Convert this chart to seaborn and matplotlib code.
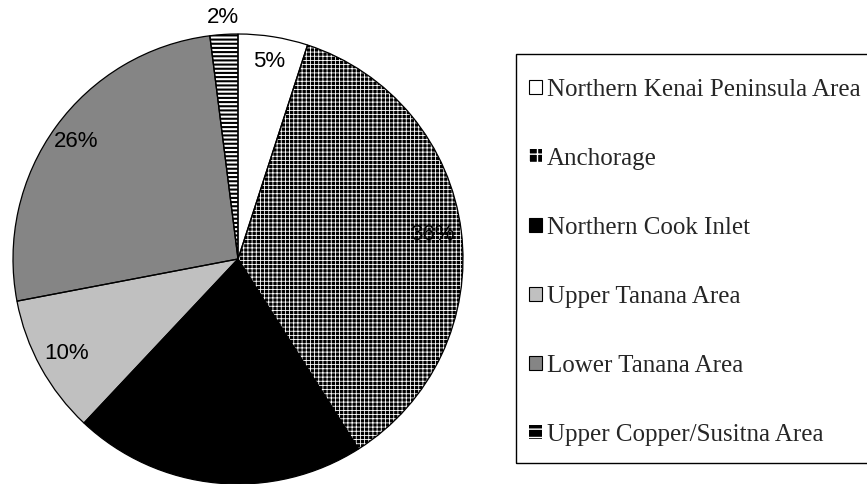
import matplotlib
matplotlib.use("Agg")
import matplotlib.pyplot as plt
from matplotlib.patches import Patch, Rectangle
import numpy as np
import seaborn as sns

# Share of the total by area
areas = ["Northern Kenai Peninsula Area", "Anchorage", "Northern Cook Inlet",
         "Upper Tanana Area", "Lower Tanana Area", "Upper Copper/Susitna Area"]
shares = [5, 36, 21, 10, 26, 2]
share_labels = ["5%", "36%", "21%", "10%", "26%", "2%"]

sns.set_theme(style="white")
plt.rcParams["font.family"] = ["Liberation Sans", "DejaVu Sans"]

fills = ["white", "black", "black", "#c0c0c0", "#858585", "white"]
hatches = [None, "++++", None, None, None, "----"]
hatch_edges = ["black", "white", "black", "black", "black", "black"]
hatch_widths = [1.0, 0.6, 1.0, 1.0, 1.0, 1.5]


def set_hatch_width(patch, lw):
    if hasattr(patch, "set_hatch_linewidth"):
        patch.set_hatch_linewidth(lw)


fig = plt.figure(figsize=(8.67, 4.84), dpi=100)
ax = fig.add_axes([13 / 867, 0.0, 450 / 867, 450 / 484])

wedges, _ = ax.pie(shares, startangle=90, counterclock=False, radius=1.0,
                   wedgeprops=dict(linewidth=0))
for w, fc, h, ec, hw in zip(wedges, fills, hatches, hatch_edges, hatch_widths):
    w.set_facecolor(fc)
    w.set_edgecolor(ec)
    w.set_linewidth(0)
    if h:
        w.set_hatch(h)
        set_hatch_width(w, hw)

# outlines on top of the filled wedges
ax.pie(shares, startangle=90, counterclock=False, radius=1.0,
       wedgeprops=dict(fill=False, edgecolor="black", linewidth=0.9))

# percentage labels placed along each wedge's mid-angle
label_r = [0.89, 0.87, 0.87, 0.87, 0.89, 1.075]
for w, txt, r in zip(wedges, share_labels, label_r):
    mid = np.deg2rad((w.theta1 + w.theta2) / 2)
    ax.text(r * np.cos(mid), r * np.sin(mid), txt, ha="center", va="center",
            fontsize=16, color="black")

ax.set_xlim(-1, 1)
ax.set_ylim(-1, 1)
ax.set_aspect("equal")
ax.axis("off")

# legend swatches
handles = [
    Patch(facecolor="white", edgecolor="black", linewidth=0.8),
    Patch(facecolor="black", edgecolor="white", linewidth=0, hatch="++"),
    Patch(facecolor="black", edgecolor="black", linewidth=0.8),
    Patch(facecolor="#c0c0c0", edgecolor="black", linewidth=0.8),
    Patch(facecolor="#858585", edgecolor="black", linewidth=0.8),
    Patch(facecolor="black", edgecolor="white", linewidth=0, hatch="--"),
]
set_hatch_width(handles[1], 0.8)
set_hatch_width(handles[5], 1.6)

leg = fig.legend(handles, areas, loc="upper left",
                 bbox_to_anchor=(529 / 867, 1 - 79 / 484),
                 bbox_transform=fig.transFigure,
                 prop={"family": ["Liberation Serif"], "size": 18},
                 frameon=False,
                 handlelength=0.52, handleheight=0.52, handletextpad=0.2,
                 labelspacing=1.88, borderpad=0, borderaxespad=0)

# legend frame
fig.add_artist(Rectangle((516 / 867, 1 - 463 / 484), 400 / 867, 409 / 484,
                         transform=fig.transFigure, fill=False,
                         edgecolor="black", linewidth=1.0, zorder=0))

fig.savefig("out.png", dpi=100, facecolor="white")
